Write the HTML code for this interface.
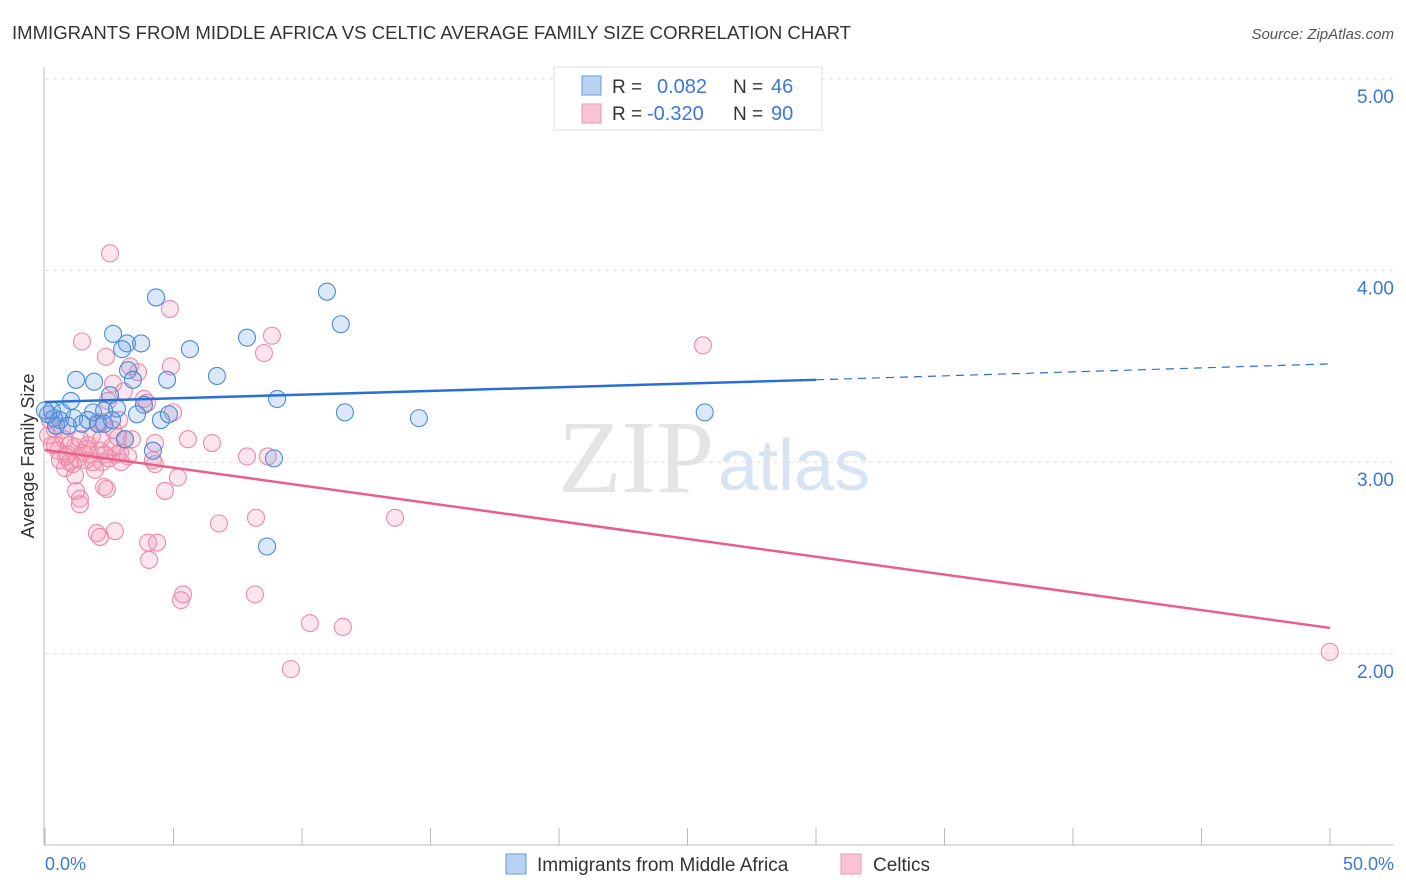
<!DOCTYPE html>
<html><head><meta charset="utf-8"><style>
body{margin:0;background:#fff;font-family:"Liberation Sans",sans-serif;}
svg{display:block}
</style></head><body>
<svg id="chart" width="1406" height="892" xmlns="http://www.w3.org/2000/svg">
<text x="12" y="39" font-size="18" fill="#333" textLength="839" lengthAdjust="spacingAndGlyphs">IMMIGRANTS FROM MIDDLE AFRICA VS CELTIC AVERAGE FAMILY SIZE CORRELATION CHART</text>
<text x="1394" y="39" font-size="15" fill="#555" font-style="italic" text-anchor="end">Source: ZipAtlas.com</text>
<text x="714" y="492" font-size="104" fill="#e4e4e4" text-anchor="end" font-family="Liberation Serif">ZIP</text>
<text x="718" y="490" font-size="72" fill="#d6e4f4">atlas</text>
<g id="grid"></g><g id="axes"></g><g id="pink"></g><g id="blue"></g><g id="lines"></g>
<text x="34" y="456" font-size="18" fill="#333" text-anchor="middle" transform="rotate(-90 34 456)">Average Family Size</text>
<text x="45" y="870" font-size="18" fill="#3b78d8">0.0%</text>
<text x="1394" y="870" font-size="18" fill="#3b78d8" text-anchor="end">50.0%</text>
<g>
<rect x="554" y="67" width="268" height="63" fill="#fff" stroke="#ddd"/>
<rect x="582" y="76" width="19" height="19" fill="#b8d2f2" stroke="#6a9ad8"/>
<rect x="582" y="104" width="19" height="19" fill="#f8c4d4" stroke="#e89ab2"/>
<text x="612" y="93" font-size="19" fill="#333">R = </text><text x="657" y="93" font-size="20" fill="#3b78d8">0.082</text>
<text x="733" y="93" font-size="19" fill="#333">N = </text><text x="771" y="93" font-size="20" fill="#3b78d8">46</text>
<text x="612" y="120" font-size="19" fill="#333">R = </text><text x="647" y="120" font-size="20" fill="#3b78d8">-0.320</text>
<text x="733" y="120" font-size="19" fill="#333">N = </text><text x="771" y="120" font-size="20" fill="#3b78d8">90</text>
</g>
<g>
<rect x="506" y="854" width="20" height="20" fill="#b8d2f2" stroke="#6a9ad8"/>
<text x="537" y="871" font-size="19" fill="#333">Immigrants from Middle Africa</text>
<rect x="841" y="854" width="20" height="20" fill="#f8c4d4" stroke="#e89ab2"/>
<text x="873" y="871" font-size="19" fill="#333">Celtics</text>
</g>
</svg>
<script>
const yTicks=[5,4,3,2];
const yTickLabels=["5.00","4.00","3.00","2.00"];
const xTicks=[0,5,10,15,20,25,30,35,40,45,50];
const bluePct=[4.32,10.97,11.51,2.65,7.86,3.19,3.74,3.00,5.64,1.21,1.91,4.75,6.69,3.23,3.42,9.03,1.01,2.53,3.85,11.67,14.55,0.66,1.87,2.30,2.80,3.58,4.51,4.82,0.35,0.58,1.13,1.67,2.06,2.30,1.44,0.12,0.43,3.11,4.20,8.91,8.64,25.67,0.27,0.89,2.61,0.0];
const blueVal=[3.86,3.89,3.72,3.67,3.65,3.62,3.62,3.59,3.59,3.43,3.42,3.43,3.45,3.48,3.43,3.33,3.32,3.35,3.30,3.26,3.23,3.26,3.26,3.27,3.28,3.25,3.22,3.25,3.23,3.22,3.23,3.22,3.20,3.20,3.20,3.25,3.19,3.12,3.06,3.02,2.56,3.26,3.27,3.19,3.22,3.27];
const pinkPct=[2.53,4.86,1.44,2.37,3.31,3.62,4.90,8.83,8.52,25.60,2.65,3.07,2.45,3.85,3.97,4.98,2.88,2.06,2.22,2.65,1.83,3.11,3.38,4.28,5.56,6.50,7.86,8.67,4.20,4.28,2.92,2.80,2.14,2.18,1.67,0.74,1.17,1.48,0.51,0.27,0.12,0.39,0.58,0.78,0.97,1.28,1.87,2.22,0.97,2.49,2.96,1.59,2.61,1.63,1.21,1.36,1.36,2.30,2.41,5.17,4.67,2.02,2.14,2.72,4.01,4.36,4.05,6.77,8.21,13.62,5.37,5.29,8.17,10.31,11.59,9.57,49.99,0.19,0.39,0.66,0.89,1.09,1.36,1.95,2.33,2.84,3.23,1.75,1.17,0.82];
const pinkVal=[4.09,3.80,3.63,3.55,3.50,3.47,3.50,3.66,3.57,3.61,3.41,3.37,3.32,3.33,3.31,3.26,3.22,3.21,3.21,3.17,3.14,3.12,3.12,3.10,3.12,3.10,3.03,3.03,3.01,2.99,3.05,3.04,3.06,3.12,3.09,3.12,3.08,3.05,3.06,3.09,3.14,3.17,3.01,2.97,3.00,3.02,3.00,3.00,3.09,3.02,3.00,3.01,3.08,3.07,2.85,2.81,2.78,2.87,2.86,2.92,2.85,2.63,2.61,2.64,2.58,2.58,2.49,2.68,2.71,2.71,2.31,2.28,2.31,2.16,2.14,1.92,2.01,3.22,3.09,3.17,3.04,2.99,3.12,2.96,3.04,3.13,3.03,3.04,2.93,3.03];
const blueTrend=[[0,3.314],[30,3.43],[50,3.513]];
const pinkTrend=[[0,3.064],[50,2.135]];
const NS="http://www.w3.org/2000/svg";
const X=p=>45+p*25.7;
const Y=v=>79+(5-v)*191.6;
function mk(tag,attrs,parent){const e=document.createElementNS(NS,tag);for(const k in attrs)e.setAttribute(k,attrs[k]);document.getElementById(parent).appendChild(e);return e;}
yTicks.forEach((t,i)=>{
 const l=mk('line',{x1:45,x2:1394,y1:Y(t),y2:Y(t),stroke:'#ddd','stroke-dasharray':'4,4'},'grid');
 
 
 const tx=mk('text',{x:1394,y:Y(t)+24,'font-size':19,fill:'#3b78d8','text-anchor':'end'},'grid');
 tx.textContent=yTickLabels[i];
 
 
});
const ax=mk('line',{x1:44,x2:44,y1:67,y2:845,stroke:'#bbb'},'axes');


const bx=mk('line',{x1:44,x2:1394,y1:845,y2:845,stroke:'#bbb'},'axes');


xTicks.forEach(t=>{
 const l=mk('line',{x1:X(t),x2:X(t),y1:828,y2:845,stroke:'#bbb'},'axes');
 
 
});
pinkPct.forEach((p,i)=>{
 const c=mk('circle',{cx:X(p),cy:Y(pinkVal[i]),r:8.5,fill:'rgba(244,150,180,0.25)',stroke:'#ec8aa8','stroke-width':1.1},'pink');
 
 
});
bluePct.forEach((p,i)=>{
 const c=mk('circle',{cx:X(p),cy:Y(blueVal[i]),r:8.5,fill:'rgba(110,165,230,0.25)',stroke:'#4a8ad8','stroke-width':1.1},'blue');
 
 
});
const b1=mk('line',{x1:X(blueTrend[0][0]),y1:Y(blueTrend[0][1]),x2:X(blueTrend[1][0]),y2:Y(blueTrend[1][1]),stroke:'#2a6fd6','stroke-width':2.5},'lines');


const b2=mk('line',{x1:X(blueTrend[1][0]),y1:Y(blueTrend[1][1]),x2:X(blueTrend[2][0]),y2:Y(blueTrend[2][1]),stroke:'#2a6fd6','stroke-width':1.2,'stroke-dasharray':'8,6'},'lines');


const p1=mk('line',{x1:X(pinkTrend[0][0]),y1:Y(pinkTrend[0][1]),x2:X(pinkTrend[1][0]),y2:Y(pinkTrend[1][1]),stroke:'#e8608a','stroke-width':2.5},'lines');


</script>
</body></html>
